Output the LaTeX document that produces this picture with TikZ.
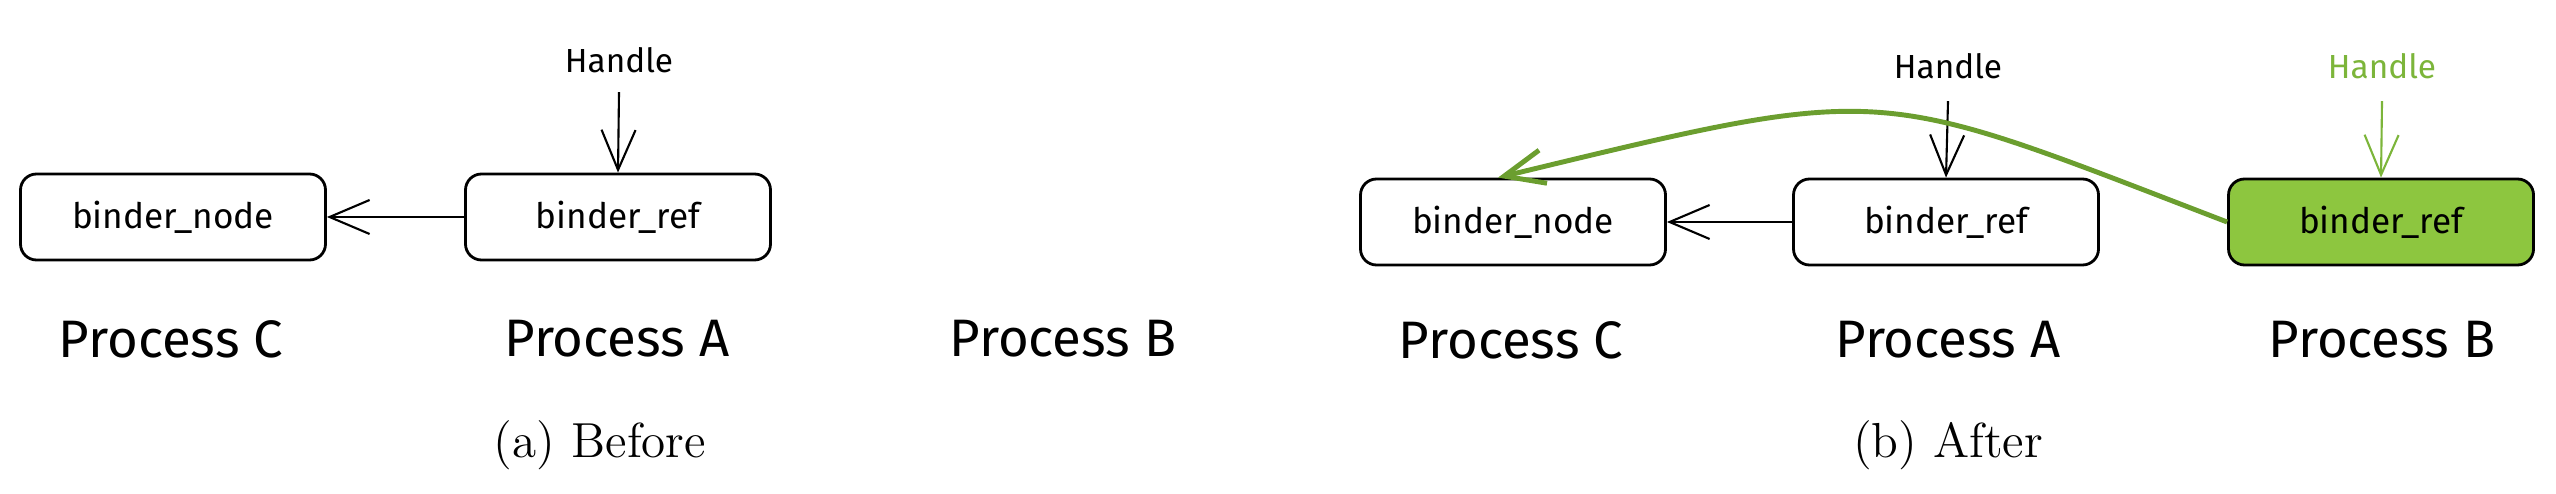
\documentclass[tikz,border=0pt]{standalone}
\usepackage{fontspec}
\newfontfamily\sketchfont{Fira Sans}
\usetikzlibrary{arrows.meta}
\definecolor{refgreen}{HTML}{8DC63F}
\definecolor{movegreen}{HTML}{6B9E2F}
\definecolor{hdlgreen}{HTML}{7CB53A}
\tikzset{
	box/.style={draw, line width=0.8pt, rounded corners=1.6mm, minimum width=30.5mm, minimum height=8.6mm, inner sep=0pt, font=\sketchfont\fontsize{10}{12}\selectfont},
	proc/.style={font=\sketchfont\fontsize{15}{18}\selectfont},
	hdl/.style={font=\sketchfont\fontsize{9.5}{11}\selectfont},
	capt/.style={font=\fontsize{14}{17}\selectfont},
	ptr/.style={line width=0.6pt, -{Straight Barb[length=4mm,width=3.4mm]}}
}
\begin{document}
\begin{tikzpicture}[x=0.1mm, y=-0.1mm]
	\useasboundingbox (0,0) rectangle (2556,494);
	% (a) before
	\node[box] (nodeC1) at (173,217) {binder\_node};
	\node[box] (refA1) at (618,217) {binder\_ref};
	\node[hdl] (hdlA1) at (619,60) {Handle};
	\draw[ptr] ([yshift=-0.7mm]hdlA1.south) -- (refA1.north);
	\draw[ptr] (refA1.west) -- (nodeC1.east);
	\node[proc] (procC1) at (171,339) {Process C};
	\node[proc] (procA1) at (617,339) {Process A};
	\node[proc] (procB1) at (1063,339) {Process B};
	\node[capt] (capA) at (600,445) {(a) Before};
	% (b) after
	\node[box] (nodeC2) at (1513,222) {binder\_node};
	\node[box] (refA2) at (1946,222) {binder\_ref};
	\node[box, fill=refgreen] (refB2) at (2381,222) {binder\_ref};
	\node[hdl] (hdlA2) at (1948,66) {Handle};
	\node[hdl, text=hdlgreen] (hdlB2) at (2382,66) {Handle};
	\draw[ptr] ([yshift=-1mm]hdlA2.south) -- (refA2.north);
	\draw[ptr, hdlgreen] ([yshift=-1mm]hdlB2.south) -- (refB2.north);
	\draw[ptr] (refA2.west) -- (nodeC2.east);
	\draw[ptr, movegreen, line width=1.4pt] (refB2.west) .. controls (1870,85) and (1894,82) .. ([xshift=-1.5mm]nodeC2.north);
	\node[proc] (procC2) at (1511,340) {Process C};
	\node[proc] (procA2) at (1948,340) {Process A};
	\node[proc] (procB2) at (2382,340) {Process B};
	\node[capt] (capB) at (1948,445) {(b) After};
\end{tikzpicture}
\end{document}
